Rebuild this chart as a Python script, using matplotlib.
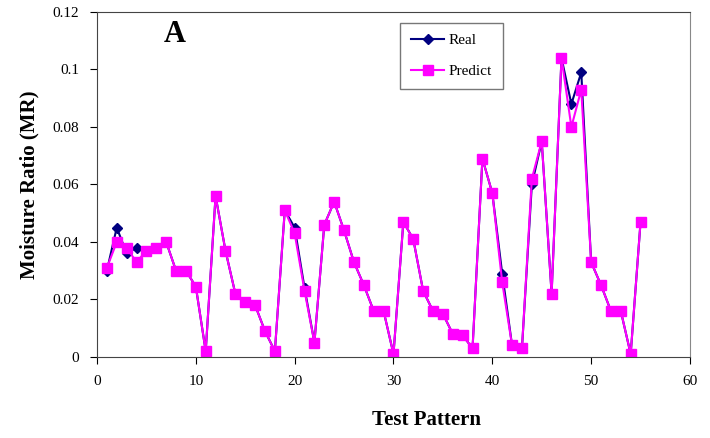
"""Real vs predicted moisture ratio over test patterns."""

import numpy as np
import matplotlib
matplotlib.use("Agg")
import matplotlib.pyplot as plt
from matplotlib.ticker import FuncFormatter

pattern = np.arange(1, 56)
predict = [0.031, 0.040, 0.038, 0.033, 0.037, 0.038, 0.040, 0.030, 0.030, 0.0245,
           0.002, 0.056, 0.037, 0.022, 0.019, 0.018, 0.009, 0.002, 0.051, 0.043,
           0.023, 0.005, 0.046, 0.054, 0.044, 0.033, 0.025, 0.016, 0.016, 0.001,
           0.047, 0.041, 0.023, 0.016, 0.015, 0.008, 0.0075, 0.003, 0.069, 0.057,
           0.026, 0.004, 0.003, 0.062, 0.075, 0.022, 0.104, 0.080, 0.093, 0.033,
           0.025, 0.016, 0.016, 0.001, 0.047]
real = list(predict)
# points where the real values visibly differ
for idx, val in {1: 0.030, 2: 0.045, 3: 0.036, 4: 0.038, 20: 0.045, 21: 0.024,
                 41: 0.029, 44: 0.060, 48: 0.088, 49: 0.099}.items():
    real[idx - 1] = val

plt.rcParams['font.family'] = ['Liberation Serif', 'DejaVu Serif']

fig = plt.figure(figsize=(7.1, 4.38), dpi=100)
ax = fig.add_axes([0.1366, 0.185, 0.8352, 0.7876])

ax.plot(pattern, real, color='#000080', marker='D', markersize=5, lw=1.5, label='Real')
ax.plot(pattern, predict, color='#FF00FF', marker='s', markersize=7, lw=1.5, label='Predict')

ax.set_xlim(0, 60)
ax.set_ylim(0, 0.12)
ax.set_xticks(range(0, 61, 10))
ax.set_yticks(np.arange(0, 0.121, 0.02))
ax.yaxis.set_major_formatter(FuncFormatter(lambda v, p: f"{v:.2f}".rstrip('0').rstrip('.')))
ax.tick_params(direction='out', length=5, labelsize=11, pad=8)
for s in ax.spines.values():
    s.set_color('#444444')
ax.spines['right'].set_color('#888888')

ax.set_xlabel('Test Pattern', fontsize=15, fontweight='bold', labelpad=16, x=0.555)
ax.set_ylabel('Moisture Ratio (MR)', fontsize=15, fontweight='bold', labelpad=9)
ax.text(6.8, 0.1095, 'A', fontsize=22, fontweight='bold')

leg = ax.legend(loc='upper left', bbox_to_anchor=(0.511, 0.968), borderaxespad=0,
                fontsize=11, frameon=True, fancybox=False, edgecolor='#555555',
                handlelength=2.2, handletextpad=0.3, labelspacing=1.1, borderpad=0.7)
leg.get_frame().set_linewidth(1.0)

fig.savefig('out.png', dpi=100)
